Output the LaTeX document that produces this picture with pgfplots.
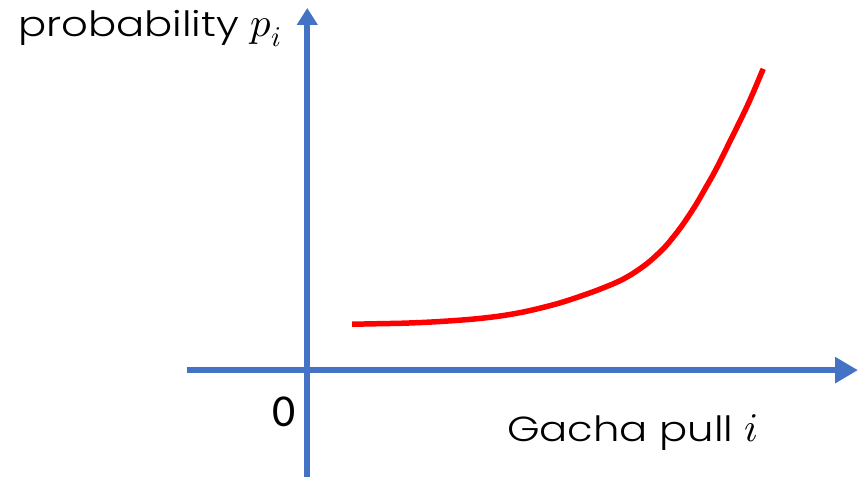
\documentclass[border=0pt]{standalone}
\usepackage{pgfplots}
\pgfplotsset{compat=1.18}
\usepackage{fontspec}
\usepackage{unicode-math}
\setmainfont{Poppins}[UprightFont=* Light, FakeStretch=1.2]
\setmathfont{Latin Modern Math}
\newfontfamily\numfont{Carlito}
\usetikzlibrary{arrows.meta}
\definecolor{axisblue}{HTML}{4472C4}
\newcommand{\bigmath}[1]{{\fontsize{41}{41}\selectfont$#1$}}
\begin{document}
\begin{tikzpicture}
\begin{axis}[
  scale only axis, width=673bp, height=470bp,
  xmin=-121, xmax=552, ymin=-107, ymax=363,
  axis lines=middle,
  axis line style={line width=6bp, axisblue},
  every inner x axis line/.append style={-{Triangle[length=23bp,width=25bp]}},
  every inner y axis line/.append style={-{Triangle[length=17bp,width=20bp]}},
  xtick=\empty, ytick=\empty,
  clip=false,
]
% probability rising with the pull count
\addplot[red, line width=5.5bp, smooth, line cap=butt] coordinates {
  (45,46) (70,46.5) (95,47) (120,48) (145,49.5) (170,51.5) (195,54.5)
  (220,59) (252,67) (285,78) (310,88) (325,96) (342,108) (359,124)
  (375,144) (389,165) (400,184) (409,200) (425,232) (442,267) (457,302)
};
\node[anchor=base west, inner sep=0pt, font=\fontsize{35}{35}\selectfont]
  at (axis cs:-290,334) {probability \bigmath{p_i}};
\node[anchor=base west, inner sep=0pt, font=\fontsize{35}{35}\selectfont]
  at (axis cs:200,-72) {Gacha pull \bigmath{i}};
\node[anchor=base west, inner sep=0pt, font=\numfont\fontsize{46}{46}\selectfont]
  at (axis cs:-35,-57) {0};
\path (axis cs:-308,-110) rectangle (axis cs:553,371);
\end{axis}
\end{tikzpicture}
\end{document}
